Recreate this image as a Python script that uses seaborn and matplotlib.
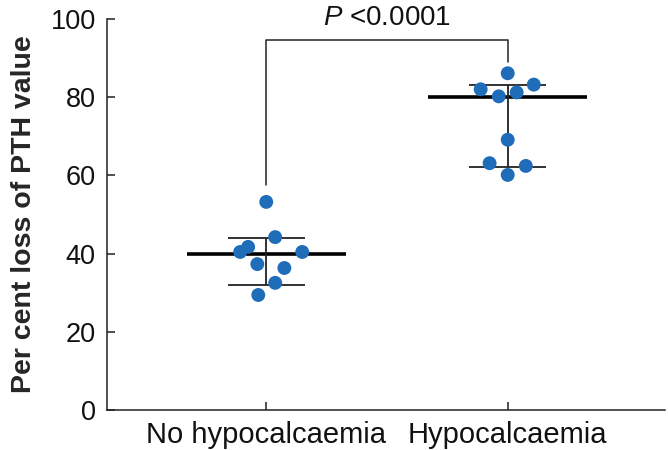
import numpy as np
import pandas as pd
import matplotlib
matplotlib.use("Agg")
import matplotlib.pyplot as plt
import seaborn as sns

# data
groups = ["No hypocalcaemia", "Hypocalcaemia"]
no_hypo = [53.2, 44.2, 41.7, 40.4, 40.4, 37.3, 36.3, 32.5, 29.4]
no_hypo_jitter = [0.0, 0.037, -0.075, -0.108, 0.149, -0.037, 0.075, 0.037, -0.033]
hypo = [86.1, 83.2, 82.0, 81.2, 80.2, 69.1, 63.1, 62.4, 60.1]
hypo_jitter = [0.0, 0.108, -0.112, 0.037, -0.037, 0.0, -0.075, 0.075, 0.0]
medians = [40, 80]
upper = [44, 83]
lower = [32, 62]
p_label = "<0.0001"

sns.set_style("ticks")
plt.rcParams["font.family"] = ["Liberation Sans", "DejaVu Sans"]
plt.rcParams["mathtext.fontset"] = "custom"
plt.rcParams["mathtext.it"] = "Liberation Sans:italic"
plt.rcParams["mathtext.rm"] = "Liberation Sans"

df = pd.DataFrame({
    "value": no_hypo + hypo,
    "pos": [0 + j for j in no_hypo_jitter] + [1 + j for j in hypo_jitter],
})

fig = plt.figure(figsize=(6.68, 4.5), dpi=100)
ax = fig.add_axes([0.160, 0.089, 0.835, 0.869])

dark = "#222222"
# median and error bars
ax.hlines(medians, [i - 0.33 for i in range(2)], [i + 0.33 for i in range(2)],
          color="black", lw=2.6, zorder=2)
ax.hlines(upper, [i - 0.16 for i in range(2)], [i + 0.16 for i in range(2)],
          color=dark, lw=1.3, zorder=2)
ax.hlines(lower, [i - 0.16 for i in range(2)], [i + 0.16 for i in range(2)],
          color=dark, lw=1.3, zorder=2)
ax.vlines(range(2), lower, upper, color=dark, lw=1.3, zorder=2)

sns.scatterplot(data=df, x="pos", y="value", ax=ax, color="#1f6cb8",
                s=100, edgecolor="none", zorder=3, legend=False)

# significance bracket
ax.plot([0, 0, 1, 1], [57.5, 94.6, 94.6, 89], color=dark, lw=1.1,
        clip_on=False, zorder=2)
ax.text(0.5, 97.0, r"$\it{P}$ " + p_label, ha="center", va="bottom",
        fontsize=20, color="#111111", clip_on=False)

ax.set_xlim(-0.66, 1.65)
ax.set_ylim(0, 100)
ax.set_yticks([0, 20, 40, 60, 80, 100])
ax.set_xticks([0, 1])
ax.set_xticklabels(groups)
ax.set_xlabel("")
ax.set_ylabel("Per cent loss of PTH value", fontsize=20.5, fontweight="bold",
              labelpad=10)
ax.tick_params(axis="both", direction="in", length=6, width=1.1,
               colors=dark, labelcolor="#111111")
ax.tick_params(axis="y", pad=8, labelsize=19.5)
ax.tick_params(axis="x", pad=8, labelsize=21)
for side in ["top", "right"]:
    ax.spines[side].set_visible(False)
for side in ["left", "bottom"]:
    ax.spines[side].set_linewidth(1.1)
    ax.spines[side].set_color(dark)

fig.savefig("out.png", dpi=100)
